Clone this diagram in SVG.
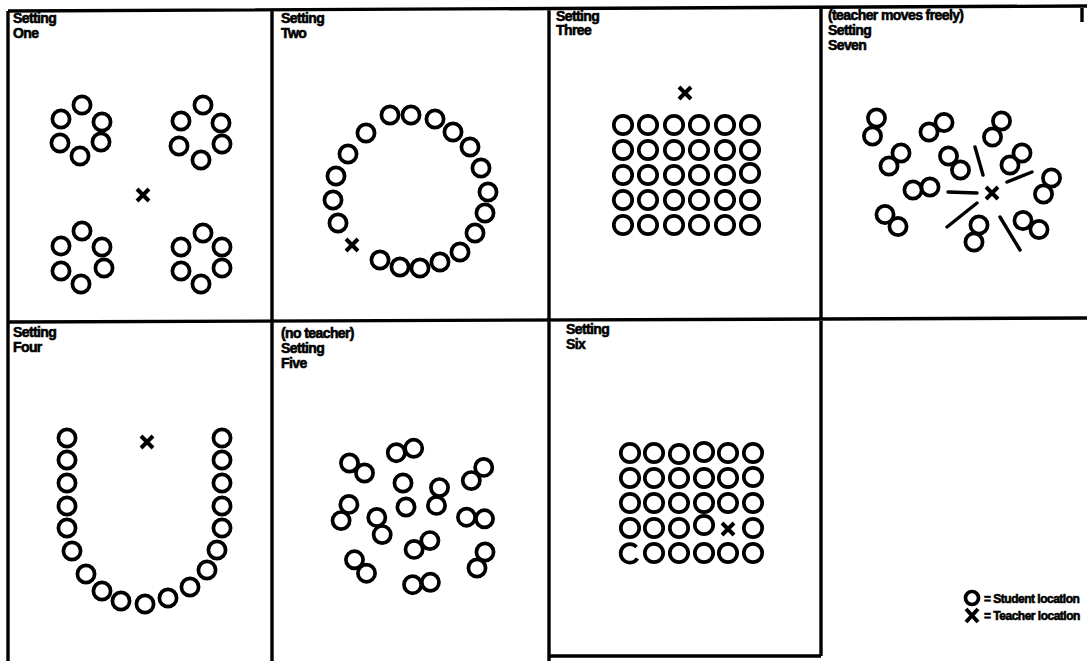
<svg xmlns="http://www.w3.org/2000/svg" width="1087" height="661" viewBox="0 0 1087 661">
<style>
.fr{fill:none;stroke:#000;stroke-width:3.4}
.s{fill:none;stroke:#000;stroke-width:3.7}
.x{fill:none;stroke:#000;stroke-width:4}
.w{fill:none;stroke:#000;stroke-width:3.4;stroke-linecap:round}
.t{font-family:"Liberation Sans",Arial,sans-serif;font-weight:bold;font-size:14px;letter-spacing:-0.6px;fill:#000;stroke:#000;stroke-width:0.6}
.lg{font-family:"Liberation Sans",Arial,sans-serif;font-weight:bold;font-size:12px;letter-spacing:-0.5px;fill:#000;stroke:#000;stroke-width:0.6}
</style>
<defs>
<circle id="c" r="8.6" class="s"/>
<circle id="g" r="9.2" class="s"/>
<path id="x" d="M-6,-6L6,6M6,-6L-6,6" class="x"/>
</defs>
<rect width="1087" height="661" fill="#fff"/>
<g id="frame">
<path class="fr" d="M8,11L1087,6M8,11V661M8,322L1087,318M272,10V661M549,9V661M821,8V656M549,656H821M1082,7V22"/>
</g>
<g id="setting-one">
<text class="t" x="13" y="23">Setting</text><text class="t" x="13" y="38">One</text>
<use href="#c" x="82" y="105"/><use href="#c" x="61" y="119"/><use href="#c" x="102" y="122"/><use href="#c" x="60" y="143"/><use href="#c" x="101" y="142"/><use href="#c" x="80" y="156"/>
<use href="#c" x="203" y="105"/><use href="#c" x="181" y="121"/><use href="#c" x="221" y="123"/><use href="#c" x="179" y="146"/><use href="#c" x="222" y="144"/><use href="#c" x="201" y="160"/>
<use href="#c" x="82" y="231"/><use href="#c" x="61" y="246"/><use href="#c" x="102" y="247"/><use href="#c" x="61" y="271"/><use href="#c" x="104" y="268"/><use href="#c" x="81" y="284"/>
<use href="#c" x="203" y="233"/><use href="#c" x="181" y="247"/><use href="#c" x="222" y="247"/><use href="#c" x="181" y="271"/><use href="#c" x="222" y="268"/><use href="#c" x="201" y="284"/>
<use href="#x" x="143" y="195"/>
</g>
<g id="setting-two">
<text class="t" x="281" y="23">Setting</text><text class="t" x="281" y="38">Two</text>
<use href="#c" x="390" y="115"/><use href="#c" x="411" y="115"/><use href="#c" x="435" y="119"/><use href="#c" x="453" y="132"/><use href="#c" x="470" y="147"/><use href="#c" x="481" y="168"/><use href="#c" x="488" y="192"/><use href="#c" x="485" y="213"/><use href="#c" x="475" y="233"/><use href="#c" x="460" y="252"/><use href="#c" x="440" y="262"/><use href="#c" x="420" y="268"/><use href="#c" x="400" y="267"/><use href="#c" x="380" y="260"/><use href="#c" x="338" y="223"/><use href="#c" x="333" y="200"/><use href="#c" x="336" y="176"/><use href="#c" x="348" y="154"/><use href="#c" x="366" y="133"/>
<use href="#x" x="352" y="245"/>
</g>
<g id="setting-three">
<text class="t" x="556" y="21">Setting</text><text class="t" x="556" y="35">Three</text>
<use href="#x" x="685" y="93"/>
<use href="#g" x="623" y="125"/><use href="#g" x="648" y="125"/><use href="#g" x="674" y="125"/><use href="#g" x="699" y="125"/><use href="#g" x="725" y="125"/><use href="#g" x="750" y="125"/>
<use href="#g" x="623" y="150"/><use href="#g" x="648" y="150"/><use href="#g" x="674" y="150"/><use href="#g" x="699" y="150"/><use href="#g" x="725" y="150"/><use href="#g" x="750" y="150"/>
<use href="#g" x="623" y="175"/><use href="#g" x="648" y="175"/><use href="#g" x="674" y="175"/><use href="#g" x="699" y="175"/><use href="#g" x="725" y="175"/><use href="#g" x="750" y="173"/>
<use href="#g" x="623" y="200"/><use href="#g" x="648" y="200"/><use href="#g" x="674" y="200"/><use href="#g" x="699" y="200"/><use href="#g" x="725" y="200"/><use href="#g" x="750" y="200"/>
<use href="#g" x="623" y="225"/><use href="#g" x="648" y="225"/><use href="#g" x="674" y="225"/><use href="#g" x="699" y="225"/><use href="#g" x="725" y="225"/><use href="#g" x="750" y="225"/>
</g>
<g id="setting-seven">
<text class="t" x="828" y="20">(teacher moves freely)</text><text class="t" x="828" y="35">Setting</text><text class="t" x="828" y="50">Seven</text>
<use href="#c" x="876.5" y="118"/><use href="#c" x="872.5" y="136"/>
<use href="#c" x="929" y="132"/><use href="#c" x="944" y="122.5"/>
<use href="#c" x="1001.5" y="121"/><use href="#c" x="992.5" y="137"/>
<use href="#c" x="901" y="153"/><use href="#c" x="889" y="166"/>
<use href="#c" x="948.5" y="156"/><use href="#c" x="960.5" y="170"/>
<use href="#c" x="1022" y="153"/><use href="#c" x="1010" y="165"/>
<use href="#c" x="913" y="190"/><use href="#c" x="930" y="187"/>
<use href="#c" x="1051.5" y="178"/><use href="#c" x="1043.5" y="194"/>
<use href="#c" x="885" y="214.5"/><use href="#c" x="898" y="226.5"/>
<use href="#c" x="979" y="225"/><use href="#c" x="974" y="242"/>
<use href="#c" x="1023" y="220.5"/><use href="#c" x="1039" y="229.5"/>
<path class="w" d="M975,147L983,175M948,192L977,193M1007,182L1032,172M947,227L977,203M1000,217L1020,250"/>
<use href="#x" x="992" y="193"/>
</g>
<g id="setting-four">
<text class="t" x="13" y="337">Setting</text><text class="t" x="13" y="352">Four</text>
<use href="#c" x="67" y="438"/><use href="#c" x="67" y="460"/><use href="#c" x="67" y="483"/><use href="#c" x="67" y="506"/><use href="#c" x="67" y="528"/><use href="#c" x="72" y="551"/>
<use href="#c" x="86" y="574"/><use href="#c" x="102" y="591"/><use href="#c" x="121" y="601"/><use href="#c" x="145" y="604"/><use href="#c" x="168" y="598"/><use href="#c" x="190" y="587"/><use href="#c" x="207" y="570"/>
<use href="#c" x="217" y="550"/><use href="#c" x="222" y="528"/><use href="#c" x="222" y="506"/><use href="#c" x="222" y="483"/><use href="#c" x="222" y="460"/><use href="#c" x="222" y="438"/>
<use href="#x" x="147" y="442"/>
</g>
<g id="setting-five">
<text class="t" x="281" y="338">(no teacher)</text><text class="t" x="281" y="353">Setting</text><text class="t" x="281" y="368">Five</text>
<use href="#c" x="349.5" y="463"/><use href="#c" x="364.5" y="473"/>
<use href="#c" x="396.3" y="452.7"/><use href="#c" x="413.7" y="448.3"/>
<use href="#c" x="403" y="483"/>
<use href="#c" x="439.5" y="487.6"/><use href="#c" x="436.5" y="505.4"/>
<use href="#c" x="471.3" y="480.6"/><use href="#c" x="483.7" y="467.4"/>
<use href="#c" x="348.9" y="504.4"/><use href="#c" x="341.1" y="520.6"/>
<use href="#c" x="376.8" y="517.4"/><use href="#c" x="382.2" y="534.6"/>
<use href="#c" x="406" y="507"/>
<use href="#c" x="466.5" y="517.2"/><use href="#c" x="484.5" y="518.8"/>
<use href="#c" x="414.1" y="549.4"/><use href="#c" x="429.9" y="540.6"/>
<use href="#c" x="485" y="552"/><use href="#c" x="477" y="568"/>
<use href="#c" x="354.5" y="559.8"/><use href="#c" x="366.5" y="573.2"/>
<use href="#c" x="412.6" y="584.7"/><use href="#c" x="430.4" y="582.3"/>
</g>
<g id="setting-six">
<text class="t" x="566" y="334">Setting</text><text class="t" x="566" y="349">Six</text>
<use href="#g" x="630" y="453"/><use href="#g" x="654" y="453"/><use href="#g" x="679" y="454"/><use href="#g" x="704" y="452"/><use href="#g" x="728" y="453"/><use href="#g" x="753" y="453"/>
<use href="#g" x="630" y="478"/><use href="#g" x="654" y="478"/><use href="#g" x="679" y="478"/><use href="#g" x="704" y="478"/><use href="#g" x="728" y="478"/><use href="#g" x="753" y="477"/>
<use href="#g" x="630" y="503"/><use href="#g" x="654" y="503"/><use href="#g" x="679" y="503"/><use href="#g" x="704" y="503"/><use href="#g" x="728" y="503"/><use href="#g" x="753" y="503"/>
<use href="#g" x="630" y="528"/><use href="#g" x="654" y="528"/><use href="#g" x="679" y="528"/><use href="#g" x="704" y="525"/><use href="#g" x="753" y="528"/>
<path class="s" d="M636.5,547A9.2,9.2 0 1,0 637.5,558.5"/><use href="#g" x="654" y="553"/><use href="#g" x="679" y="553"/><use href="#g" x="704" y="553"/><use href="#g" x="728" y="553"/><use href="#g" x="753" y="553"/>
<use href="#x" x="728" y="529"/>
</g>
<g id="legend">
<circle cx="972" cy="598" r="6.5" class="s"/>
<text class="lg" x="984" y="603">= Student location</text>
<path d="M966,609L978,622M978,609L966,622" class="x"/>
<text class="lg" x="984" y="620">= Teacher location</text>
</g>
</svg>
